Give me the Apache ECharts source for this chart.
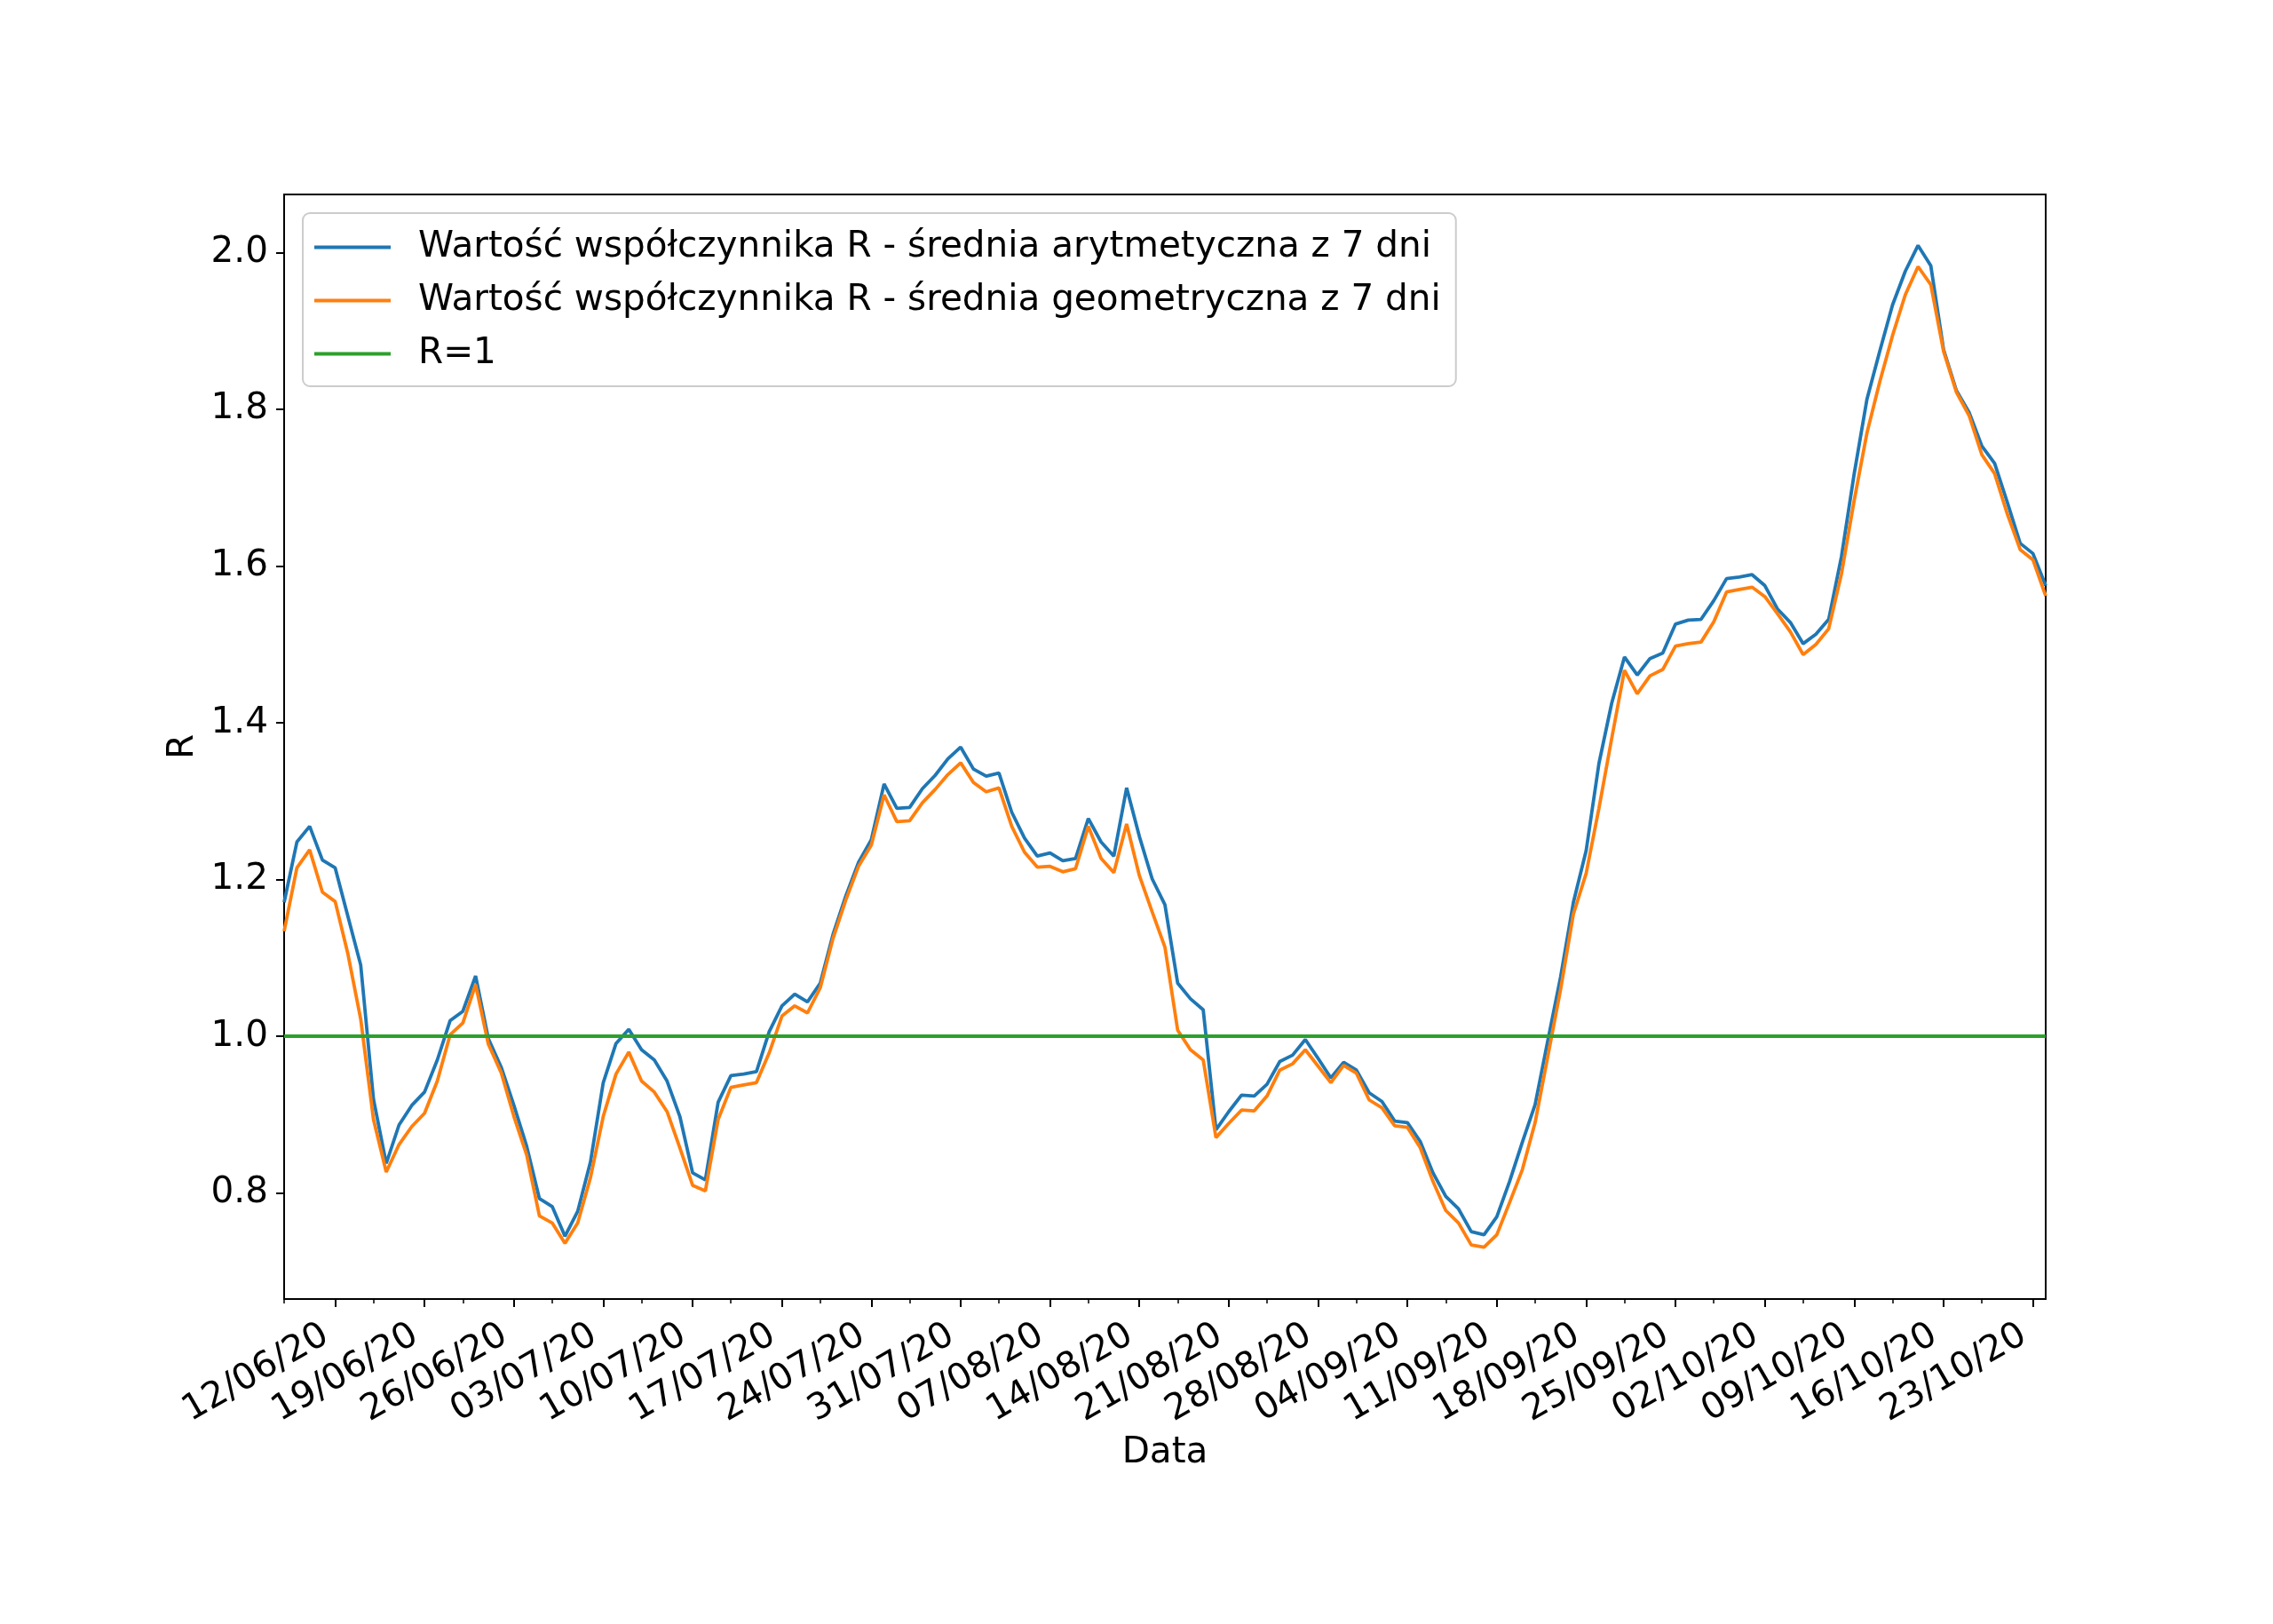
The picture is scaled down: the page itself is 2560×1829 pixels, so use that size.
<!DOCTYPE html>
<html>
<head>
<meta charset="utf-8">
<script src="https://cdn.jsdelivr.net/npm/echarts@6/dist/echarts.min.js"></script>
<style>
html,body{margin:0;padding:0;background:#fff;}
#chart{width:2560px;height:1829px;}
</style>
</head>
<body>
<div id="chart"></div>
<script>
// ---- data ----
const startDay = [2020, 6, 8]; // 08/06/2020, daily
const seriesNames = [
  'Wartość współczynnika R - średnia arytmetyczna z 7 dni',
  'Wartość współczynnika R - średnia geometryczna z 7 dni',
  'R=1'
];
const arithMean = [
  1.171,1.248,1.268,1.225,1.215,1.153,1.091,0.920,0.838,0.887,
  0.912,0.929,0.970,1.020,1.032,1.077,0.997,0.961,0.912,0.860,
  0.793,0.783,0.745,0.777,0.840,0.941,0.991,1.009,0.983,0.970,
  0.943,0.898,0.826,0.817,0.916,0.950,0.952,0.955,1.006,1.039,
  1.054,1.044,1.068,1.130,1.179,1.222,1.251,1.322,1.291,1.292,
  1.316,1.333,1.354,1.369,1.341,1.332,1.336,1.286,1.253,1.230,
  1.234,1.224,1.227,1.278,1.248,1.230,1.317,1.255,1.201,1.168,
  1.068,1.048,1.034,0.881,0.904,0.925,0.924,0.939,0.968,0.976,
  0.996,0.972,0.947,0.967,0.957,0.928,0.917,0.892,0.890,0.866,
  0.826,0.796,0.780,0.751,0.747,0.770,0.815,0.865,0.913,0.995,
  1.076,1.171,1.237,1.348,1.425,1.484,1.461,1.482,1.489,1.526,
  1.531,1.532,1.556,1.584,1.586,1.589,1.575,1.545,1.528,1.501,
  1.513,1.532,1.612,1.718,1.813,1.874,1.933,1.976,2.009,1.983,
  1.876,1.824,1.796,1.753,1.731,1.681,1.629,1.616,1.575
];
const geomMean = [
  1.134,1.215,1.238,1.184,1.172,1.105,1.022,0.894,0.827,0.862,
  0.885,0.902,0.943,1.002,1.017,1.066,0.990,0.954,0.898,0.849,
  0.771,0.762,0.736,0.762,0.820,0.898,0.952,0.980,0.943,0.929,
  0.904,0.858,0.810,0.803,0.894,0.935,0.938,0.941,0.979,1.026,
  1.039,1.030,1.062,1.125,1.174,1.217,1.244,1.308,1.274,1.275,
  1.298,1.315,1.334,1.349,1.324,1.312,1.317,1.268,1.235,1.216,
  1.217,1.210,1.214,1.268,1.227,1.209,1.271,1.205,1.159,1.114,
  1.008,0.983,0.970,0.871,0.889,0.906,0.905,0.924,0.957,0.965,
  0.983,0.962,0.941,0.963,0.953,0.919,0.909,0.886,0.884,0.858,
  0.815,0.778,0.762,0.734,0.731,0.747,0.788,0.830,0.890,0.975,
  1.060,1.156,1.208,1.291,1.380,1.467,1.437,1.460,1.468,1.498,
  1.501,1.503,1.529,1.567,1.570,1.573,1.561,1.539,1.516,1.487,
  1.500,1.520,1.590,1.684,1.770,1.835,1.894,1.946,1.982,1.959,
  1.874,1.822,1.792,1.742,1.718,1.666,1.621,1.608,1.562
];
const referenceLevel = 1.0;
const yTickValues = [0.8, 1.0, 1.2, 1.4, 1.6, 1.8, 2.0];
const yRange = [0.665, 2.074];

// ---- categories (daily dates) ----
const pad2 = n => (n < 10 ? '0' : '') + n;
const dayObjs = arithMean.map((_, i) => new Date(Date.UTC(startDay[0], startDay[1] - 1, startDay[2] + i)));
const dates = dayObjs.map(d => pad2(d.getUTCDate()) + '/' + pad2(d.getUTCMonth() + 1) + '/' + String(d.getUTCFullYear()).slice(2));
const isFriday = i => dayObjs[i].getUTCDay() === 5;
const isMonday = i => dayObjs[i].getUTCDay() === 1;

const FONT = 'DejaVu Sans';
const FS = 40.5;

const chart = echarts.init(document.getElementById('chart'), null, {renderer: 'canvas'});
chart.setOption({
  animation: false,
  backgroundColor: '#ffffff',
  textStyle: {fontFamily: FONT},
  grid: {
    left: 320, top: 219, width: 1984, height: 1244,
    show: true, borderColor: '#000', borderWidth: 2, backgroundColor: 'transparent',
    containLabel: false
  },
  legend: {
    left: 341, top: 240,
    orient: 'vertical',
    data: seriesNames,
    icon: 'rect',
    itemWidth: 86, itemHeight: 4,
    itemGap: 13,
    padding: [15, 17, 13, 13],
    backgroundColor: 'rgba(255,255,255,0.8)',
    borderColor: '#cccccc', borderWidth: 2, borderRadius: 8,
    textStyle: {fontFamily: FONT, fontSize: FS, color: '#000', lineHeight: 47, padding: [0, 0, 0, 26]},
    selectedMode: false
  },
  xAxis: [
    {
      type: 'category', data: dates, boundaryGap: false,
      name: 'Data', nameLocation: 'middle', nameGap: 147,
      nameTextStyle: {fontFamily: FONT, fontSize: FS, color: '#000'},
      axisLine: {show: true, lineStyle: {color: '#000', width: 2}},
      axisTick: {show: true, interval: (i) => isFriday(i), length: 9, lineStyle: {color: '#000', width: 2}},
      axisLabel: {
        show: true, interval: (i) => isFriday(i), rotate: 30, margin: 32,
        fontFamily: FONT, fontSize: FS, color: '#000', padding: [0, 12, 0, 0]
      },
      splitLine: {show: false}
    },
    {
      type: 'category', data: dates, boundaryGap: false, position: 'bottom',
      axisLine: {show: false},
      axisTick: {show: true, interval: (i) => isMonday(i), length: 5, lineStyle: {color: '#000', width: 1.5}},
      axisLabel: {show: false},
      splitLine: {show: false}
    }
  ],
  yAxis: {
    type: 'value', min: yRange[0], max: yRange[1], splitNumber: 7,
    name: 'R', nameLocation: 'middle', nameGap: 88,
    nameTextStyle: {fontFamily: FONT, fontSize: FS, color: '#000'},
    axisLine: {show: true, lineStyle: {color: '#000', width: 2}},
    axisTick: {show: true, length: 9, lineStyle: {color: '#000', width: 2}, customValues: yTickValues},
    axisLabel: {
      fontFamily: FONT, fontSize: FS, color: '#000', margin: 18,
      customValues: yTickValues,
      formatter: v => v.toFixed(1)
    },
    splitLine: {show: false}
  },
  series: [
    {
      name: seriesNames[0], type: 'line', data: arithMean, xAxisIndex: 0,
      showSymbol: false, symbol: 'none', color: '#1f77b4',
      lineStyle: {color: '#1f77b4', width: 3.8}, z: 2
    },
    {
      name: seriesNames[1], type: 'line', data: geomMean, xAxisIndex: 0,
      showSymbol: false, symbol: 'none', color: '#ff7f0e',
      lineStyle: {color: '#ff7f0e', width: 3.8}, z: 3
    },
    {
      name: seriesNames[2], type: 'line', data: [], xAxisIndex: 0,
      showSymbol: false, symbol: 'none', color: '#2ca02c',
      lineStyle: {color: '#2ca02c', width: 3.8}, z: 4,
      markLine: {
        silent: true, symbol: ['none', 'none'], label: {show: false},
        lineStyle: {color: '#2ca02c', width: 3.8, type: 'solid'},
        emphasis: {disabled: true},
        data: [{yAxis: referenceLevel}]
      }
    }
  ]
});
</script>
</body>
</html>
